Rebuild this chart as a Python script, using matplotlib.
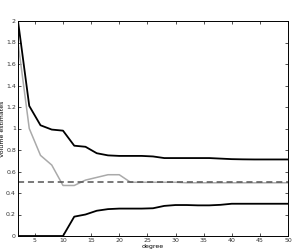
import matplotlib
matplotlib.use("Agg")
import matplotlib.pyplot as plt

degree = [2, 4, 6, 8, 10, 12, 14, 16, 18, 20, 22, 24, 26, 28, 30, 32, 34, 36, 38, 40, 42, 44, 46, 48, 50]
upper = [2.0, 1.21, 1.03, 0.99, 0.98, 0.84, 0.83, 0.77, 0.75, 0.745, 0.745, 0.745, 0.74, 0.725, 0.725, 0.725, 0.725, 0.725, 0.72, 0.715, 0.713, 0.712, 0.712, 0.712, 0.712]
estimate = [1.8, 1.0, 0.75, 0.66, 0.47, 0.47, 0.52, 0.545, 0.57, 0.57, 0.5, 0.5, 0.5, 0.5, 0.5, 0.495, 0.495, 0.495, 0.495, 0.495, 0.495, 0.495, 0.495, 0.495, 0.495]
lower = [0.0, 0.0, 0.0, 0.0, 0.0, 0.18, 0.2, 0.235, 0.25, 0.255, 0.255, 0.255, 0.258, 0.28, 0.288, 0.288, 0.285, 0.285, 0.29, 0.3, 0.3, 0.3, 0.3, 0.3, 0.3]
true_value = 0.5

fig = plt.figure(figsize=(2.93, 2.52), dpi=100)
ax = fig.add_axes([18/293, 1-236/252, (288-18)/293, (236-21)/252])
ax.plot(degree, upper, color="black", lw=1.3)
ax.plot(degree, lower, color="black", lw=1.3)
ax.plot(degree, estimate, color="#aaaaaa", lw=1.1)
ax.axhline(true_value, color="#555555", lw=1.1, ls=(0, (4, 2.5)))
ax.set_xlim(2, 50)
ax.set_ylim(0, 2)
ax.set_xticks(range(5, 51, 5))
yt = [0, 0.2, 0.4, 0.6, 0.8, 1, 1.2, 1.4, 1.6, 1.8, 2]
ax.set_yticks(yt)
ax.set_yticklabels([("%g" % v) for v in yt])
ax.tick_params(direction="in", length=2.5, width=0.6, labelsize=4.5, top=True, right=True, pad=1.5, colors="#333333")
for s in ax.spines.values():
    s.set_linewidth(0.7)
ax.set_xlabel("degree", fontsize=4.5, labelpad=0.5)
ax.set_ylabel("Volume estimates", fontsize=4.5, labelpad=0.5)
fig.savefig("out.png", dpi=100)
